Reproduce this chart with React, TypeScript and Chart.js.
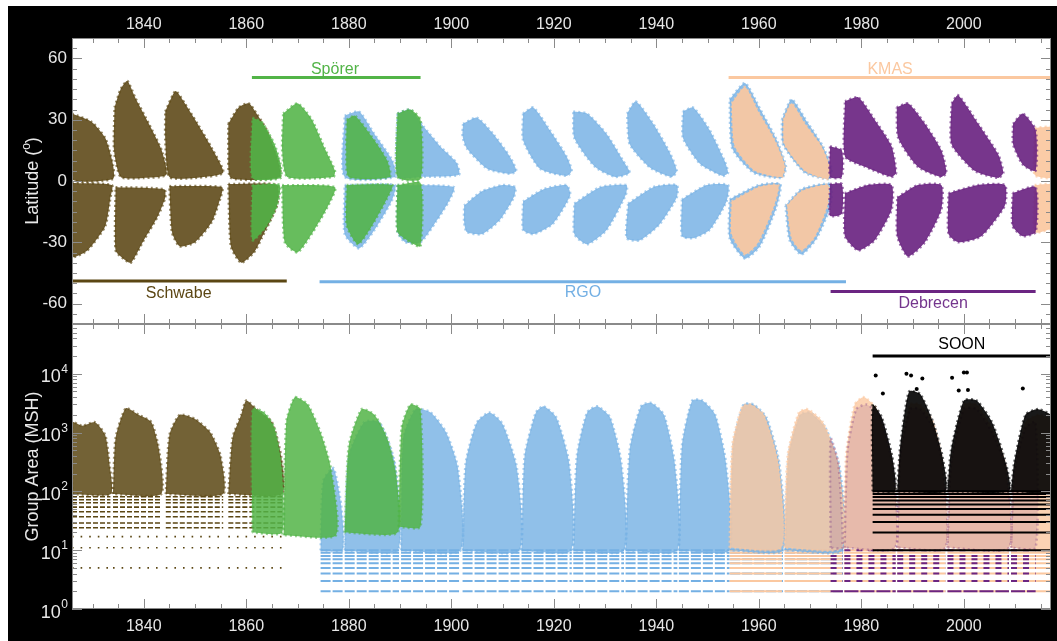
import React, { useEffect, useRef } from 'react';
import { Chart, registerables } from 'chart.js';
Chart.register(...registerables);

type P = [number, number];
const FONT = '"Liberation Sans", Arial, Helvetica, sans-serif';

// ---------- axes ----------
const X_MIN = 1826;
const X_MAX = 2017;
const yearLabels = [1840, 1860, 1880, 1900, 1920, 1940, 1960, 1980, 2000];
const LAT_MIN = -70;
const LAT_MAX = 70;
const latLabels = [-60, -30, 0, 30, 60];
const AREA_MIN = 1;
const AREA_MAX = 70000;
const areaDecades = [1, 10, 100, 1000, 10000];

// ---------- series ----------
const seriesNames = ['Schwabe', 'Spörer', 'RGO', 'KMAS', 'Debrecen', 'SOON'];
const seriesColors = ['#5b4613', '#52b447', '#74b0e4', '#fbc8a0', '#6b2582', '#000000'];
const coverageFrom = [1826, 1861.1, 1874.3, 1954.1, 1974.0, 1982.2];
const coverageTo = [1867.9, 1894.0, 1977.0, 2017, 2014.0, 2017];
const coverageLevel = [-49, 50.7, -49.3, 50.7, -54.1, 20000];
const labelYear = [1846.8, 1877.3, 1925.7, 1985.6, 1994.0, 1999.6];
const labelLevel = [-55.1, 54.6, -54.6, 54.6, -60, 31000];

// ---------- butterfly wings (year, latitude) ----------
const schwabeWings: P[][] = [
  [[1826, 33], [1829.8, 29], [1832.5, 21], [1834, 8], [1834, 1], [1826, 1]],
  [[1826, -1], [1833.8, -2], [1833.5, -8], [1832.5, -22], [1829, -34], [1826, -37]],
  [[1834.3, 36], [1835.5, 45], [1836.8, 49], [1838.3, 41], [1841, 28], [1843.5, 15], [1844.4, 3], [1840, 1.5], [1835.5, 2], [1834.2, 15]],
  [[1834.5, -3], [1844, -4], [1844.2, -8], [1842.8, -17], [1840, -29], [1837.5, -40], [1836, -38], [1834.5, -34]],
  [[1844.2, 34], [1846.2, 44], [1848, 38], [1850.5, 28], [1853.3, 16], [1855.5, 4], [1850, 1.5], [1845, 2], [1844.2, 20]],
  [[1845, -2.5], [1855.3, -3], [1855, -8], [1853.3, -20], [1850, -30], [1847, -32], [1845.5, -25]],
  [[1856.5, 28], [1858.5, 36], [1860.5, 38], [1862, 33], [1864, 25], [1866, 12], [1866.5, 2], [1857, 1.5], [1856.5, 15]],
  [[1856.5, -1.5], [1866, -2], [1866, -12], [1863, -28], [1861.5, -35], [1859, -40], [1857, -32]],
];
const sporerWings: P[][] = [
  [[1861.2, 31], [1863, 29], [1865.5, 18], [1866.7, 8], [1866.7, 1.5], [1861.2, 1.5]],
  [[1861.2, -2], [1866.5, -2], [1866, -12], [1864, -22], [1861.2, -29]],
  [[1867.2, 33], [1870, 38], [1872.8, 30], [1875.3, 16], [1877.3, 5], [1877, 2], [1868, 2], [1867, 15]],
  [[1867, -2], [1877.3, -3], [1876, -12], [1873, -25], [1870, -35], [1867.5, -30]],
  [[1879.6, 30], [1881.2, 32], [1884.4, 22], [1887.5, 10], [1888, 2], [1880, 2], [1879.5, 15]],
  [[1879.6, -2], [1888.5, -2], [1887.8, -7], [1884.5, -22], [1881.8, -31], [1879.6, -22]],
  [[1889.5, 33], [1892, 35], [1894, 30], [1894, 1], [1889.5, 2]],
  [[1889.5, -2], [1894, -1], [1894, -32], [1892, -30], [1889.5, -25]],
];
const rgoWings: P[][] = [
  [[1879.2, 32], [1882, 34], [1885, 23], [1888.5, 10], [1889, 2], [1879.2, 2]],
  [[1879.2, -2], [1889, -2], [1888.5, -9], [1885, -24], [1882, -33], [1879.2, -26]],
  [[1889.5, 33], [1892, 35], [1894.5, 27], [1897.8, 17], [1901, 9], [1901.5, 3], [1894, 2], [1889.5, 2]],
  [[1889.5, -2], [1900.5, -3], [1899.5, -10], [1897, -20], [1894, -30], [1891, -30], [1889.5, -25]],
  [[1902.3, 28], [1905, 31], [1908.2, 23], [1911.4, 12], [1912.7, 5], [1911.5, 3.5], [1907, 6], [1903, 16], [1902.2, 22]],
  [[1902.5, -12], [1906, -5], [1910, -2], [1912.5, -3], [1912.2, -8], [1909.5, -19], [1906, -26], [1903, -25], [1902.5, -20]],
  [[1914, 33], [1916, 36], [1919.2, 25], [1922.5, 12], [1923.5, 5], [1922.5, 2.5], [1917.3, 6], [1914, 20]],
  [[1914, -10], [1918, -4], [1922.5, -2], [1923.2, -7], [1919.8, -21], [1916, -26], [1914, -24]],
  [[1923.8, 34], [1926.5, 33], [1930.3, 23], [1933.5, 10], [1934.8, 4], [1932, 2], [1928, 7], [1924, 21]],
  [[1924, -11], [1929, -3], [1934.2, -2], [1934, -7], [1930.3, -24], [1926.5, -31], [1924, -26]],
  [[1934.3, 33], [1936, 39], [1939.4, 28], [1942.6, 14], [1944, 5], [1943, 2], [1938.8, 6.5], [1934.8, 18]],
  [[1934.5, -11], [1939.4, -3], [1944, -2], [1944, -8], [1940.7, -21], [1936.8, -29], [1934.2, -28]],
  [[1945.2, 34], [1947.2, 36], [1950.4, 25], [1953.3, 10], [1954, 4], [1953, 2.5], [1948.5, 8.5], [1945.2, 21]],
  [[1945, -9], [1949.8, -2], [1954, -2], [1953.7, -10], [1950.4, -24], [1947.2, -28], [1945, -27]],
  [[1954.3, 40], [1957.3, 48], [1960.3, 35], [1963.5, 20], [1965.3, 7], [1964.5, 1.5], [1959, 4], [1954.8, 16]],
  [[1954.3, -9], [1960, -2], [1964.2, -1.5], [1963.4, -13], [1960.2, -32], [1957.3, -38], [1954.3, -28]],
  [[1964.5, 30], [1966.4, 40], [1969.4, 29], [1972.5, 17], [1974.2, 6], [1973.8, 1], [1969, 4], [1964.7, 18]],
  [[1965.2, -12], [1968.3, -4], [1974, -1.5], [1974, -12], [1971.3, -28], [1968.3, -36], [1966, -29]],
];
const kmasWings: P[][] = [
  [[1954.7, 38], [1957.3, 46], [1959.9, 34], [1963.1, 20], [1965, 8], [1964.5, 2], [1959.2, 5], [1955.3, 17]],
  [[1954.7, -10], [1959.9, -3], [1963.8, -2], [1963, -12], [1959.9, -30], [1957.3, -36], [1954.7, -26]],
  [[1964.8, 30], [1966.4, 38], [1969, 28], [1972.2, 17], [1973.8, 7], [1973.5, 1], [1969, 5], [1965, 18]],
  [[1965.5, -12], [1968.3, -5], [1973.5, -2], [1973.5, -11], [1971, -27], [1968.3, -34], [1966.4, -28]],
  [[2013.8, 26], [2017.5, 26], [2017.5, 2], [2013.8, 3]],
  [[2013.8, -2], [2017.5, -2], [2017.5, -22], [2013.8, -25]],
];
const debrecenWings: P[][] = [
  [[1973.9, 17], [1976.2, 15], [1976.2, 2], [1973.9, 2]],
  [[1973.9, -1.5], [1976.2, -1.5], [1976.2, -16], [1973.9, -17]],
  [[1976.8, 39], [1979.4, 41], [1982.6, 30], [1985.9, 17], [1986.8, 4], [1985.9, 2], [1980.7, 7], [1976.8, 12]],
  [[1976.8, -6], [1981.3, -2], [1985.9, -2], [1985.9, -14], [1982.6, -29], [1979.4, -34], [1976.8, -27]],
  [[1986.9, 36], [1989.1, 38], [1992.4, 28], [1995.6, 15], [1996.6, 4], [1995.6, 2], [1991, 7], [1987.2, 21]],
  [[1987, -8], [1991, -2], [1995.6, -2], [1995.6, -14], [1992.4, -30], [1989.1, -37], [1987, -27]],
  [[1997.6, 38], [1998.9, 42], [2002.8, 28], [2006.7, 13], [2007.7, 4], [2006.7, 1.5], [2002.1, 5], [1997.6, 18]],
  [[1997, -6], [2002.8, -2], [2008, -2], [2008, -12], [2003.4, -27], [1998.9, -30], [1997, -26]],
  [[2009.6, 28], [2011.5, 33], [2014, 25], [2014, 5], [2011.5, 8], [2009.6, 18]],
  [[2009.5, -6], [2014, -3], [2014, -25], [2011.5, -27], [2009.5, -22]],
];

// ---------- group area bands (year, area MSH) ----------
const schwabeBands: P[][] = [
  [[1826, 90], [1826, 1500], [1828, 1300], [1830.5, 1500], [1832.5, 900], [1833.3, 300], [1833.6, 90]],
  [[1834, 90], [1834.5, 800], [1836.5, 2600], [1839, 2000], [1841.5, 1500], [1843, 500], [1843.4, 90]],
  [[1844.3, 90], [1845, 900], [1847, 2000], [1850, 1700], [1853, 1000], [1855, 400], [1855.5, 90]],
  [[1856.5, 90], [1857.3, 800], [1859, 2000], [1860, 3500], [1862, 2500], [1865, 1500], [1866.8, 400], [1867, 90]],
];
const sporerBands: P[][] = [
  [[1861.2, 20], [1861.2, 2500], [1863.5, 2200], [1865.5, 1200], [1866.8, 300], [1867, 20]],
  [[1867.3, 18], [1867.8, 1500], [1869.5, 4000], [1872, 3000], [1874.5, 1000], [1876.5, 250], [1877.5, 18]],
  [[1879.2, 20], [1880, 600], [1882.5, 2500], [1885, 2000], [1887.5, 800], [1889.2, 200], [1889.5, 20]],
  [[1889.7, 25], [1890.3, 1200], [1892, 3000], [1894, 2500], [1894, 25]],
];
const rgoBands: P[][] = [
  [[1874.5, 10], [1875, 150], [1877, 250], [1878.5, 60], [1878.8, 10]],
  [[1879.2, 10], [1880, 400], [1883, 1500], [1886, 1500], [1889, 300], [1889.6, 10]],
  [[1890.2, 10], [1890.6, 800], [1893, 2500], [1896, 2200], [1899, 1000], [1901.3, 250], [1901.8, 10]],
  [[1902.2, 10], [1902.8, 300], [1905, 1500], [1907.5, 2200], [1910, 1400], [1912.8, 250], [1913.3, 10]],
  [[1913.7, 10], [1914.3, 400], [1916.5, 2200], [1918, 2800], [1920.5, 1800], [1923, 300], [1923.4, 10]],
  [[1923.8, 10], [1924.5, 400], [1926.5, 2200], [1928.5, 2800], [1931, 1800], [1933.2, 300], [1933.7, 10]],
  [[1934, 10], [1934.8, 500], [1937, 2800], [1939, 3200], [1941.5, 2000], [1943.6, 300], [1944.1, 10]],
  [[1944.4, 10], [1945, 600], [1947, 3500], [1949, 3500], [1951.5, 2000], [1953.6, 300], [1954.2, 10]],
  [[1954.4, 10], [1955, 600], [1957, 3000], [1959, 3000], [1961.5, 1800], [1964, 300], [1964.7, 10]],
  [[1965.1, 10], [1965.8, 400], [1968, 2000], [1970, 2200], [1973, 1200], [1975.8, 250], [1976.4, 10]],
];
const kmasBands: P[][] = [
  [[1954.3, 11], [1954.8, 600], [1956.8, 2800], [1958.5, 3000], [1961, 2000], [1963.8, 300], [1964.4, 11]],
  [[1965, 11], [1965.6, 400], [1967.8, 2200], [1969.5, 2500], [1972.5, 1500], [1975.5, 300], [1976.2, 11]],
  [[1976.6, 11], [1977, 400], [1978.7, 3000], [1980.5, 4000], [1983, 2500], [1986, 300], [1986.6, 11]],
  [[1987, 11], [1987.6, 400], [1989.5, 3000], [1991.5, 3000], [1994, 1500], [1995.8, 300], [1996.4, 11]],
  [[1996.8, 11], [1997.5, 300], [2000, 3000], [2002.5, 3000], [2005.5, 1200], [2008.2, 250], [2008.8, 11]],
  [[2009.2, 11], [2009.8, 200], [2012, 1500], [2014.5, 2000], [2017.5, 1500], [2017.5, 11]],
];
const debrecenBands: P[][] = [
  [[1974, 11], [1974, 800], [1975.5, 300], [1976.3, 11]],
  [[1976.7, 11], [1977.3, 500], [1979, 2500], [1981, 3000], [1983.5, 2000], [1986, 300], [1986.6, 11]],
  [[1987, 11], [1987.6, 400], [1989.5, 2500], [1991.5, 2500], [1994, 1200], [1995.8, 300], [1996.4, 11]],
  [[1996.8, 11], [1997.5, 300], [2000, 2500], [2002.5, 2500], [2005.5, 1000], [2008.2, 250], [2008.8, 11]],
  [[2009.2, 11], [2009.8, 200], [2012, 1200], [2014, 1500], [2014, 11]],
];
const soonBands: P[][] = [
  [[1982.2, 100], [1982.2, 3000], [1984, 1800], [1986, 400], [1986.6, 100]],
  [[1987, 100], [1987.6, 600], [1989.3, 5000], [1991.5, 4500], [1994, 1500], [1995.8, 400], [1996.4, 100]],
  [[1996.8, 100], [1997.5, 500], [2000, 3500], [2002.5, 3500], [2005.5, 1500], [2008.2, 300], [2008.8, 100]],
  [[2009.2, 100], [2009.8, 300], [2012, 2000], [2014.5, 2500], [2017.5, 1800], [2017.5, 100]],
];
const soonOutliers: P[] = [
  [1982.8, 9300], [1988.8, 10000], [1989.7, 9300], [1991.9, 8300], [1997.7, 8500], [2000, 10500],
  [2000.6, 10500], [2011.5, 5600], [1999, 5200], [2000.8, 5300], [1990.8, 5500], [1984.2, 4600],
];

// ---------- quantised small-area levels ----------
const schwabeLevels = [24, 29, 37, 45, 54, 64, 72, 81];
const schwabeSparseLevels = [5, 11, 17];
const schwabeSegments: P[] = [[1826, 1833.5], [1834, 1843.3], [1844.3, 1855.5], [1856.5, 1867]];
const rgoLevels = [2, 3, 4, 5, 6, 7, 8, 9, 10];
const rgoSegments: P[] = [[1874.5, 1878.8], [1879.2, 1889.8], [1890.2, 1901.8], [1902.2, 1913.3], [1913.7, 1923.5], [1923.8, 1933.7], [1934, 1944.1], [1944.4, 1954.3], [1954.4, 1964.7], [1965.1, 1976.5]];
const kmasLevels = [2, 3, 4, 5, 6, 7, 8, 9, 10];
const kmasSegments: P[] = [[1954.3, 1964.5], [1965, 1976.3], [1976.6, 1986.7], [1987, 1996.4], [1996.8, 2008.8], [2009.2, 2017.5]];
const debrecenLowLevels = [1, 2];
const debrecenLevels = [3, 4, 5, 6, 7, 8, 10];
const debrecenSegments: P[] = [[1974, 1976.4], [1976.7, 1986.7], [1987, 1996.4], [1996.8, 2008.8], [2009.2, 2014]];
const soonLevels = [10, 20, 30, 40, 50, 60, 70, 80, 90, 100];
const soonSegments: P[] = [[1982.2, 2017.5]];

// ---------- helpers ----------
function rgba(hex: string, a: number) {
  const n = parseInt(hex.slice(1), 16);
  return `rgba(${n >> 16},${(n >> 8) & 255},${n & 255},${a})`;
}
function polys(list: P[][], color: string, alpha: number, edgeAlpha: number, tension = 0.2) {
  return list.map((poly) => {
    const pts = poly.map(([x, y]) => ({ x, y }));
    pts.push({ x: poly[0][0], y: poly[0][1] });
    return {
      data: pts,
      fill: 'shape',
      backgroundColor: rgba(color, alpha),
      borderColor: rgba(color, edgeAlpha),
      borderWidth: 2.5,
      borderDash: [2, 3],
      pointRadius: 0,
      tension,
    };
  });
}
function levelLines(levels: number[], segs: P[], color: string, width: number, dash: number[]) {
  return levels.map((lv) => ({
    data: segs.flatMap(([s, e]) => [{ x: s, y: lv }, { x: e, y: lv }, { x: e, y: null }]),
    borderColor: color,
    borderWidth: width,
    borderDash: dash,
    pointRadius: 0,
    fill: false,
    spanGaps: false,
    tension: 0,
  }));
}
function coverage(i: number, width = 3) {
  return {
    data: [{ x: coverageFrom[i], y: coverageLevel[i] }, { x: coverageTo[i], y: coverageLevel[i] }],
    borderColor: seriesColors[i],
    borderWidth: width,
    pointRadius: 0,
    fill: false,
    tension: 0,
  };
}
function withOrder(list: any[]) {
  return list.map((d, i) => ({ ...d, order: list.length - i }));
}

function drawRotated(ctx: CanvasRenderingContext2D, cx: number, cy: number, parts: { t: string; size: number; raise: number }[]) {
  ctx.save();
  ctx.translate(cx, cy);
  ctx.rotate(-Math.PI / 2);
  ctx.fillStyle = '#e8e8e8';
  ctx.textBaseline = 'alphabetic';
  ctx.textAlign = 'left';
  let total = 0;
  for (const p of parts) { ctx.font = `${p.size}px ${FONT}`; total += ctx.measureText(p.t).width; }
  let x = -total / 2;
  for (const p of parts) {
    ctx.font = `${p.size}px ${FONT}`;
    ctx.fillText(p.t, x, 6.5 - p.raise);
    x += ctx.measureText(p.t).width;
  }
  ctx.restore();
}

function framePlugin(kind: 'top' | 'bottom') {
  return {
    id: 'frame_' + kind,
    beforeDraw(chart: any) {
      const { ctx, chartArea: a } = chart;
      ctx.save();
      ctx.fillStyle = '#000';
      ctx.fillRect(0, 0, chart.width, chart.height);
      ctx.fillStyle = '#fff';
      ctx.fillRect(a.left, a.top, a.right - a.left, a.bottom - a.top);
      ctx.restore();
    },
    afterDatasetsDraw(chart: any) {
      const { ctx } = chart;
      const xs = chart.scales.x;
      const ys = chart.scales.y;
      ctx.save();
      ctx.font = `16px ${FONT}`;
      ctx.textAlign = 'center';
      ctx.textBaseline = 'middle';
      const idx = kind === 'top' ? [0, 1, 2, 3, 4] : [5];
      for (const i of idx) {
        ctx.fillStyle = i === 4 ? '#74358d' : seriesColors[i];
        ctx.fillText(seriesNames[i], xs.getPixelForValue(labelYear[i]), ys.getPixelForValue(labelLevel[i]));
      }
      ctx.restore();
    },
    afterDraw(chart: any) {
      const { ctx, chartArea: a } = chart;
      const xs = chart.scales.x;
      const ys = chart.scales.y;
      ctx.save();
      ctx.strokeStyle = '#8a8a8a';
      ctx.lineWidth = 1;
      ctx.beginPath();
      for (let yr = 1830; yr <= 2015; yr += 5) {
        const px = Math.round(xs.getPixelForValue(yr)) + 0.5;
        const len = yr % 20 === 0 ? 10 : 5;
        ctx.moveTo(px, a.top); ctx.lineTo(px, a.top + len);
        ctx.moveTo(px, a.bottom); ctx.lineTo(px, a.bottom - len);
      }
      const yTicks: { v: number; major: boolean }[] = [];
      if (kind === 'top') {
        for (let l = -65; l <= 65; l += 5) yTicks.push({ v: l, major: l % 30 === 0 });
      } else {
        for (const d of areaDecades) for (let m = 1; m <= 9; m++) if (m * d <= AREA_MAX) yTicks.push({ v: m * d, major: m === 1 });
      }
      for (const t of yTicks) {
        const py = Math.round(ys.getPixelForValue(t.v)) + 0.5;
        const len = t.major ? 10 : 5;
        ctx.moveTo(a.left, py); ctx.lineTo(a.left + len, py);
        ctx.moveTo(a.right, py); ctx.lineTo(a.right - len, py);
      }
      ctx.stroke();
      ctx.strokeRect(Math.round(a.left) + 0.5, Math.round(a.top) + 0.5, Math.round(a.right - a.left) - 1, Math.round(a.bottom - a.top) - 1);
      ctx.restore();

      const midY = (a.top + a.bottom) / 2;
      if (kind === 'top') {
        drawRotated(ctx, 23, midY, [
          { t: 'Latitude (', size: 18, raise: 0 },
          { t: 'o', size: 12, raise: 8 },
          { t: ')', size: 18, raise: 0 },
        ]);
      } else {
        drawRotated(ctx, 23, midY, [{ t: 'Group Area (MSH)', size: 18, raise: 0 }]);
        ctx.save();
        ctx.fillStyle = '#e8e8e8';
        ctx.textBaseline = 'alphabetic';
        areaDecades.forEach((d, k) => {
          const py = ys.getPixelForValue(d);
          ctx.font = `12px ${FONT}`;
          const exp = String(k);
          const ew = ctx.measureText(exp).width;
          ctx.textAlign = 'left';
          ctx.fillText(exp, 60 - ew, py - 1);
          ctx.font = `18px ${FONT}`;
          ctx.textAlign = 'right';
          ctx.fillText('10', 60 - ew - 0.5, py + 8.5);
        });
        ctx.restore();
      }
    },
  };
}

function xAxis(position: 'top' | 'bottom') {
  return {
    type: 'linear',
    position,
    min: X_MIN,
    max: X_MAX,
    afterBuildTicks: (s: any) => { s.ticks = yearLabels.map((v) => ({ value: v })); },
    afterFit: (s: any) => { s.height = 32; s.paddingLeft = 0; s.paddingRight = 0; },
    grid: { display: false, drawTicks: false },
    border: { display: false },
    ticks: {
      color: '#e6e6e6',
      font: { family: FONT, size: 16 },
      padding: position === 'top' ? 4 : 8,
      maxRotation: 0,
      autoSkip: false,
      callback: (v: any) => String(v),
    },
  };
}

const baseOptions = {
  animation: false,
  responsive: false,
  devicePixelRatio: 1,
  events: [],
  layout: { autoPadding: false, padding: { left: 0, right: 6, top: 0, bottom: 0 } },
  plugins: { legend: { display: false }, tooltip: { enabled: false } },
};

function topConfig(): any {
  const ds = withOrder([
    ...polys(rgoWings, seriesColors[2], 0.82, 0.6),
    ...polys(schwabeWings, seriesColors[0], 0.88, 0.65),
    ...polys(sporerWings, seriesColors[1], 0.88, 0.65),
    ...polys(kmasWings, seriesColors[3], 0.92, 0.7),
    ...polys(debrecenWings, seriesColors[4], 0.92, 0.65),
    coverage(0), coverage(1), coverage(2), coverage(3), coverage(4),
  ]);
  return {
    type: 'line',
    data: { datasets: ds },
    options: {
      ...baseOptions,
      scales: {
        x: xAxis('top'),
        y: {
          type: 'linear',
          position: 'left',
          min: LAT_MIN,
          max: LAT_MAX,
          afterBuildTicks: (s: any) => { s.ticks = latLabels.map((v) => ({ value: v })); },
          afterFit: (s: any) => { s.width = 64; s.paddingTop = 0; s.paddingBottom = 0; },
          grid: { display: false, drawTicks: false },
          border: { display: false },
          ticks: { color: '#e6e6e6', font: { family: FONT, size: 17 }, padding: 5, callback: (v: any) => String(v) },
        },
      },
    },
    plugins: [framePlugin('top')],
  };
}

function bottomConfig(): any {
  const ds = withOrder([
    ...levelLines(schwabeSparseLevels, schwabeSegments, seriesColors[0], 1.6, [1.6, 7]),
    ...levelLines(schwabeLevels, schwabeSegments, seriesColors[0], 1.6, [5, 2]),
    ...levelLines(rgoLevels, rgoSegments, seriesColors[2], 2, [10, 2]),
    ...levelLines(kmasLevels, kmasSegments, seriesColors[3], 2, []),
    ...levelLines(debrecenLevels, debrecenSegments, seriesColors[4], 2, [6, 6]),
    ...levelLines(debrecenLowLevels, debrecenSegments, seriesColors[4], 2, [14, 2]),
    ...polys(schwabeBands, seriesColors[0], 0.85, 0.6),
    ...polys(rgoBands, seriesColors[2], 0.8, 0.6),
    ...polys(sporerBands, seriesColors[1], 0.85, 0.6),
    ...polys(kmasBands, seriesColors[3], 0.8, 0.6),
    ...polys(debrecenBands, seriesColors[4], 0.14, 0.3),
    ...polys(soonBands, seriesColors[5], 0.9, 0.6),
    ...levelLines(soonLevels, soonSegments, seriesColors[5], 2, []),
    {
      data: soonOutliers.map(([x, y]) => ({ x, y })),
      showLine: false,
      pointRadius: 2,
      pointBackgroundColor: '#000',
      pointBorderWidth: 0,
    },
    coverage(5),
  ]);
  return {
    type: 'line',
    data: { datasets: ds },
    options: {
      ...baseOptions,
      scales: {
        x: xAxis('bottom'),
        y: {
          type: 'logarithmic',
          position: 'left',
          min: AREA_MIN,
          max: AREA_MAX,
          afterFit: (s: any) => { s.width = 64; s.paddingTop = 0; s.paddingBottom = 0; },
          grid: { display: false, drawTicks: false },
          border: { display: false },
          ticks: { display: false },
        },
      },
    },
    plugins: [framePlugin('bottom')],
  };
}

export default function App() {
  const topRef = useRef<HTMLCanvasElement>(null);
  const botRef = useRef<HTMLCanvasElement>(null);
  useEffect(() => {
    const c1 = new Chart(topRef.current as HTMLCanvasElement, topConfig());
    const c2 = new Chart(botRef.current as HTMLCanvasElement, bottomConfig());
    return () => { c1.destroy(); c2.destroy(); };
  }, []);
  return (
    <div style={{ position: 'absolute', left: 8, top: 6, width: 1049, height: 635, background: '#000' }}>
      <canvas ref={topRef} width={1049} height={318} style={{ position: 'absolute', left: 0, top: 0, width: 1049, height: 318 }} />
      <canvas ref={botRef} width={1049} height={317} style={{ position: 'absolute', left: 0, top: 318, width: 1049, height: 317 }} />
    </div>
  );
}
